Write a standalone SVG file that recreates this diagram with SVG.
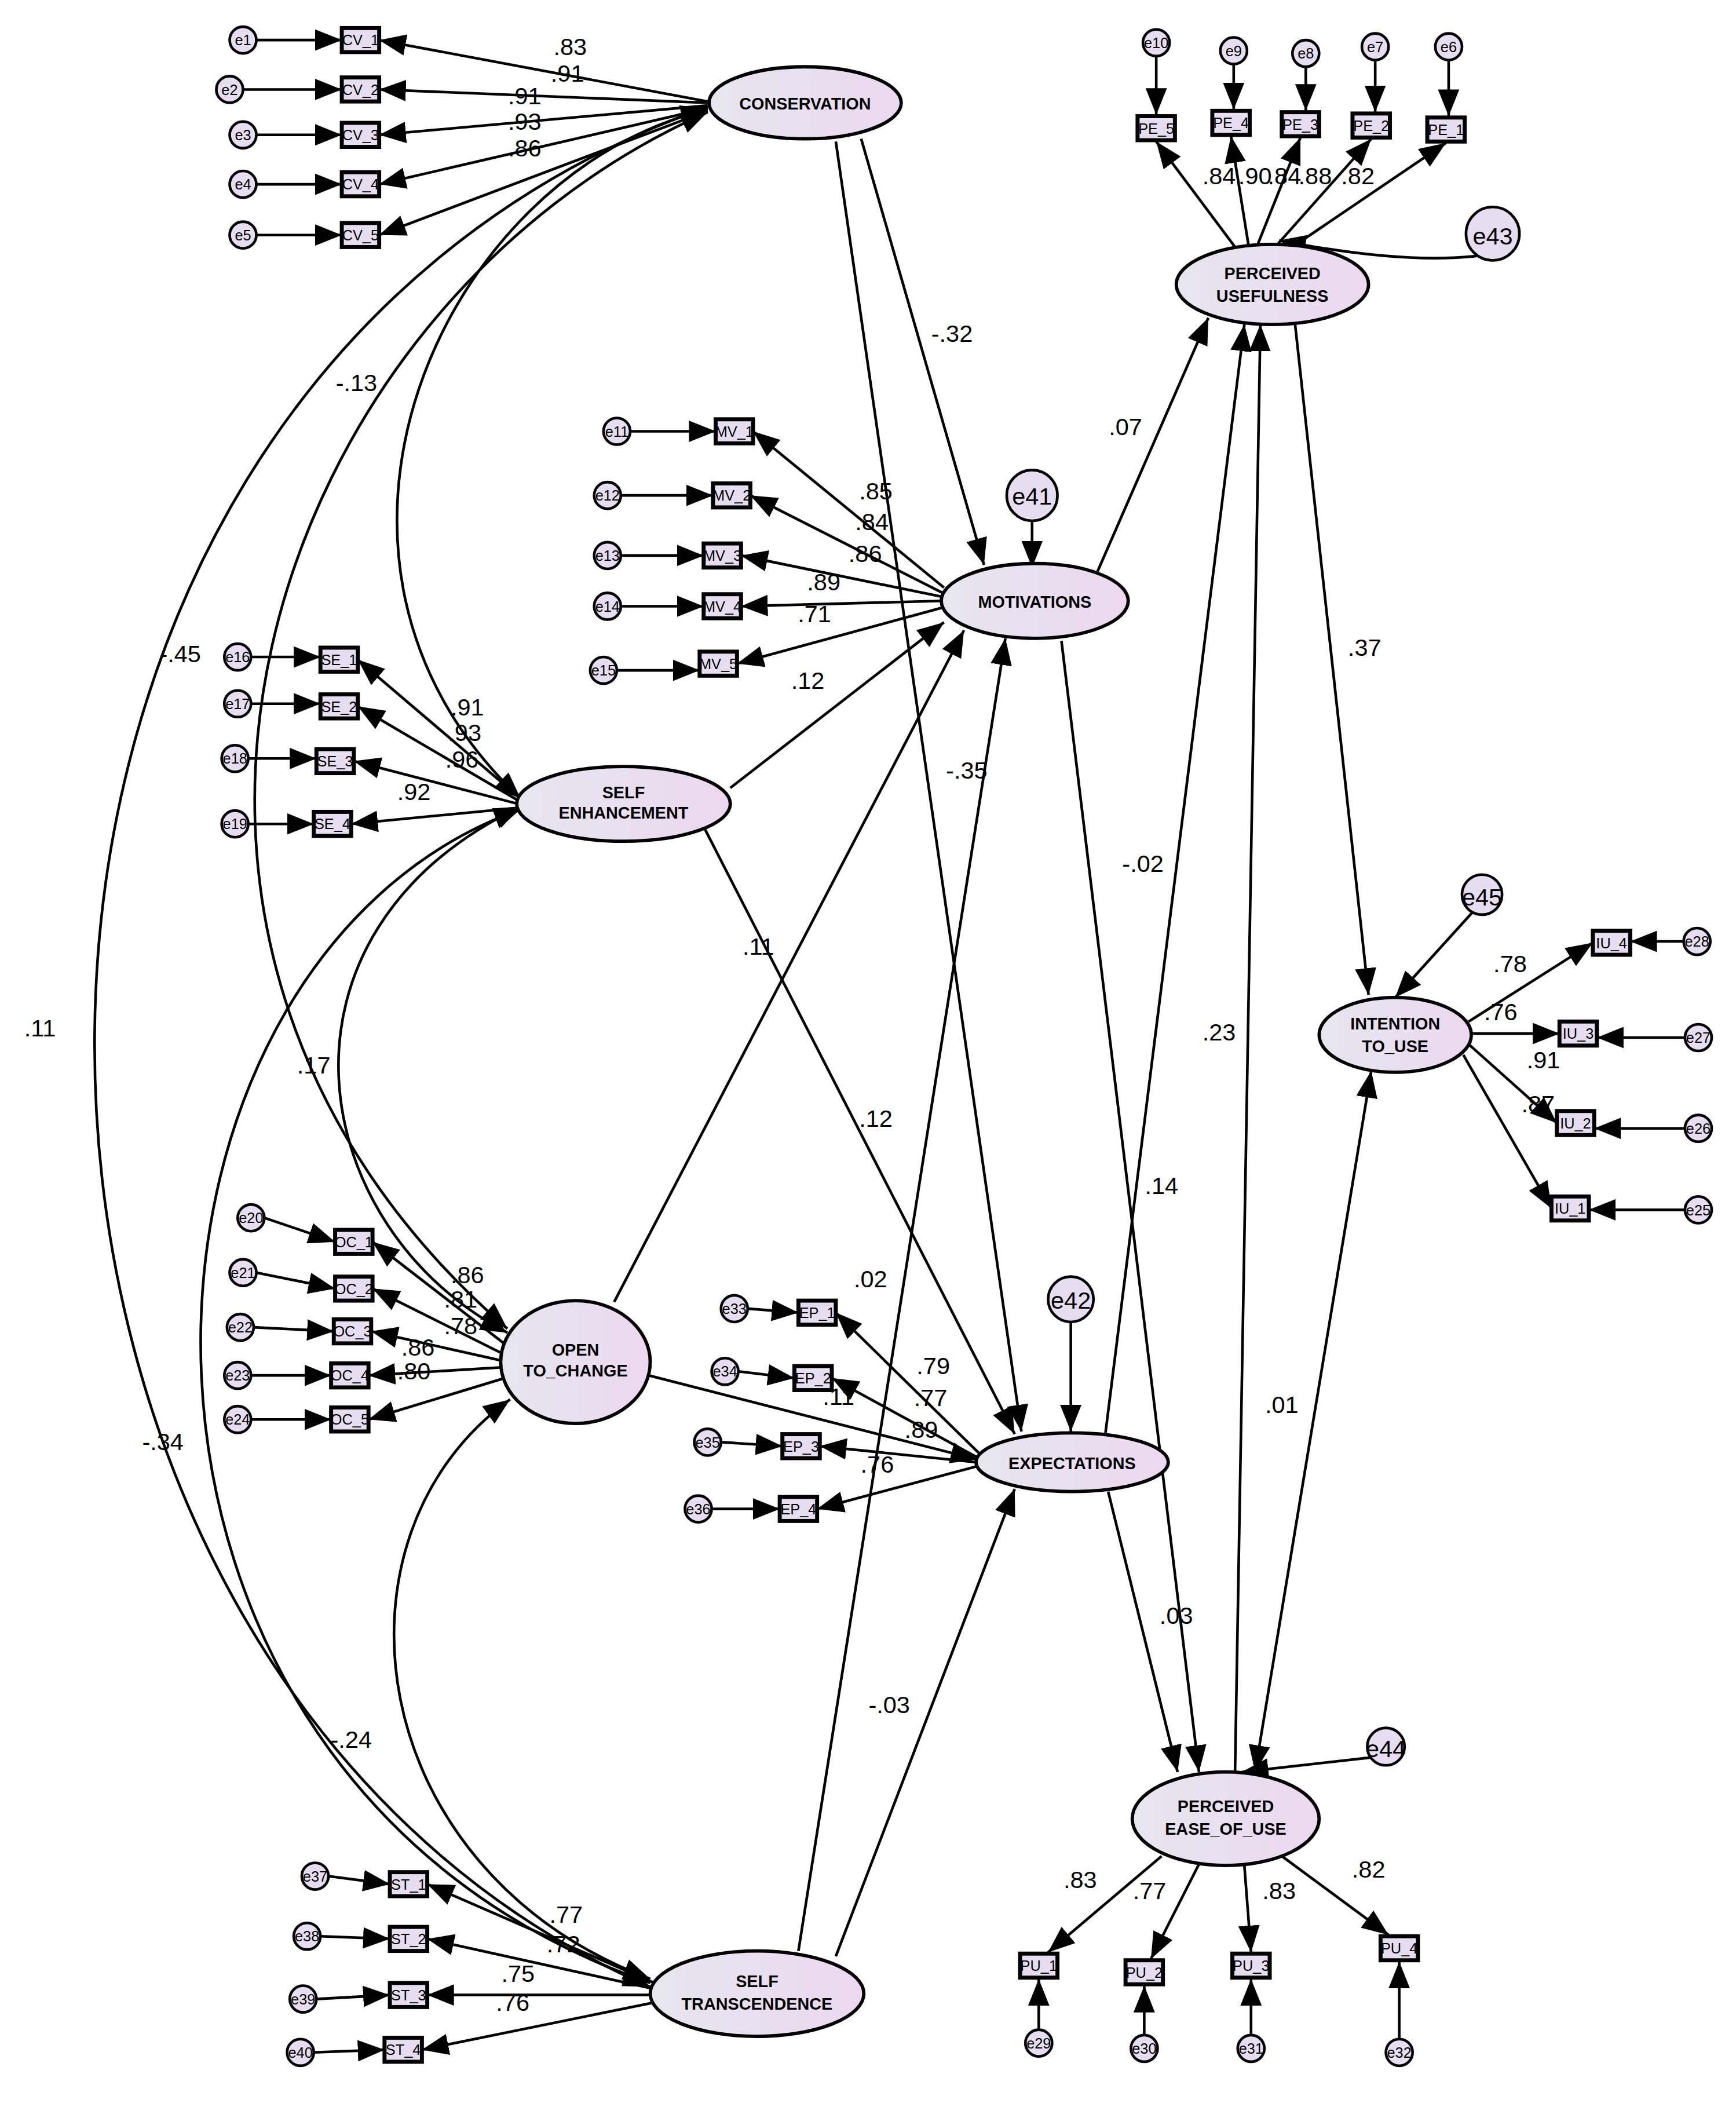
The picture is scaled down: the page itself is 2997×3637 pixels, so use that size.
<svg xmlns="http://www.w3.org/2000/svg" width="2997" height="3637" viewBox="0 0 2997 3637">
<style>
.l{fill:url(#g);stroke:#000;stroke-width:2.5}
.b{fill:#e6def0;stroke:#000;stroke-width:3}
.e{fill:#e6def0;stroke:#000;stroke-width:2}
.n{font-family:"Liberation Sans",Arial,sans-serif;font-weight:bold;font-size:12.5px;text-anchor:middle}
.s{font-family:"Liberation Sans",Arial,sans-serif;font-size:11px;text-anchor:middle}
.t{font-family:"Liberation Sans",Arial,sans-serif;font-size:18px;text-anchor:middle}
.a{fill:none;stroke:#000;stroke-width:2;marker-end:url(#m)}
.d{fill:none;stroke:#000;stroke-width:2;marker-end:url(#m);marker-start:url(#m)}
</style>
<defs>
<linearGradient id="g" x1="0" x2="1"><stop offset="0" stop-color="#e6e6ee"/><stop offset="1" stop-color="#ecd8f0"/></linearGradient>
<marker id="m" viewBox="0 0 10 8" refX="10" refY="4" markerWidth="10" markerHeight="8" orient="auto-start-reverse"><path d="M0,0L10,4L0,8z"/></marker>
</defs>
<rect width="2997" height="3637" fill="#fff"/>
<g transform="scale(2.305)">
<g id="connectors">
<!-- CV -->
<path class="a" d="M192,30H256"/><path class="a" d="M182,67H256"/><path class="a" d="M192,101H256"/><path class="a" d="M192,138H256"/><path class="a" d="M192,176H256"/>
<path class="a" d="M530,76L284,30"/><path class="a" d="M530,77L284,67"/><path class="a" d="M530,79L284,101"/><path class="a" d="M530,81L284,138"/><path class="a" d="M530,83L284,176"/>
<!-- MV -->
<path class="a" d="M472,323H536"/><path class="a" d="M465,371H534"/><path class="a" d="M465,416H527"/><path class="a" d="M465,454H527"/><path class="a" d="M462,502H524"/>
<path class="a" d="M707,440L564,323"/><path class="a" d="M706,444L562,371"/><path class="a" d="M706,447L555,416"/><path class="a" d="M705,450L555,454"/><path class="a" d="M706,455L552,497"/>
<!-- SE -->
<path class="a" d="M188,492H240"/><path class="a" d="M188,527H240"/><path class="a" d="M186,568H237"/><path class="a" d="M186,617H235"/>
<path class="a" d="M390,598L268,494"/><path class="a" d="M389,600L268,529"/><path class="a" d="M388,602L265,570"/><path class="a" d="M388,605L263,617"/>
<!-- OC -->
<path class="a" d="M198,912L251,930"/><path class="a" d="M192,953L251,965"/><path class="a" d="M190,994L250,997"/><path class="a" d="M188,1030H248"/><path class="a" d="M188,1063H248"/>
<path class="a" d="M380,1008L279,930"/><path class="a" d="M377,1014L279,965"/><path class="a" d="M376,1019L278,997"/><path class="a" d="M376,1024L276,1030"/><path class="a" d="M378,1032L276,1063"/>
<!-- EP -->
<path class="a" d="M560,980L598,983"/><path class="a" d="M553,1027L595,1032"/><path class="a" d="M540,1080L586,1083"/><path class="a" d="M533,1130H584"/>
<path class="a" d="M735,1090L626,983"/><path class="a" d="M733,1092L623,1032"/><path class="a" d="M731,1095L614,1083"/><path class="a" d="M732,1098L612,1130"/>
<!-- ST -->
<path class="a" d="M246,1405L292,1411"/><path class="a" d="M240,1450L292,1452"/><path class="a" d="M237,1497L292,1494"/><path class="a" d="M235,1537L288,1535"/>
<path class="a" d="M490,1485L320,1411"/><path class="a" d="M488,1489L320,1452"/><path class="a" d="M487,1494L320,1494"/><path class="a" d="M488,1500L316,1535"/>
<!-- PE -->
<path class="a" d="M866,42V86"/><path class="a" d="M924,48V82"/><path class="a" d="M978,50V83"/><path class="a" d="M1030,45V84"/><path class="a" d="M1085,45V87"/>
<path class="a" d="M925,185L866,106"/><path class="a" d="M935,183L922,102"/><path class="a" d="M942,183L974,103"/><path class="a" d="M955,185L1027,104"/><path class="a" d="M965,187L1083,107"/>
<!-- IU -->
<path class="a" d="M1261,705H1221"/><path class="a" d="M1262,777H1196"/><path class="a" d="M1262,845H1194"/><path class="a" d="M1262,906H1190"/>
<path class="a" d="M1100,765L1193,706"/><path class="a" d="M1102,774H1168"/><path class="a" d="M1100,782L1166,841"/><path class="a" d="M1096,790L1162,905"/>
<!-- PU (PEOU indicators) -->
<path class="a" d="M778,1520V1482"/><path class="a" d="M857,1524V1487"/><path class="a" d="M937,1524V1482"/><path class="a" d="M1048,1527V1469"/>
<path class="a" d="M870,1390L785,1462"/><path class="a" d="M898,1396L862,1467"/><path class="a" d="M932,1397L937,1462"/><path class="a" d="M960,1390L1040,1449"/>
<!-- structural -->
<path class="a" d="M645,104L737,423"/>
<path class="a" d="M626,106L765,1072"/>
<path class="a" d="M547,590L707,466"/>
<path class="a" d="M528,621L760,1074"/>
<path class="a" d="M460,975L722,472"/>
<path class="a" d="M486,1030L732,1093"/>
<path class="a" d="M598,1461L753,478"/>
<path class="a" d="M626,1465L760,1115"/>
<path class="a" d="M822,428L905,238"/>
<path class="a" d="M795,480L898,1327"/>
<path class="a" d="M828,1073L932,243"/>
<path class="a" d="M830,1117L882,1327"/>
<path class="a" d="M925,1327L944,243"/>
<path class="d" d="M940,1327L1027,802"/>
<path class="a" d="M970,243L1025,745"/>
<path class="a" d="M773,390V425"/>
<path class="a" d="M802,990V1072"/>
<path class="a" d="M1118,190Q1060,200 958,180"/>
<path class="a" d="M1028,1316L930,1327"/>
<path class="a" d="M1103,683L1045,747"/>
<!-- covariances -->
<path class="d" d="M530,82C330,130 200,420 390,598"/>
<path class="d" d="M530,84C200,230 40,700 380,995"/>
<path class="d" d="M530,80C-90,300 -60,1250 487,1488"/>
<path class="d" d="M390,604C190,700 230,920 380,998"/>
<path class="d" d="M390,606C70,720 40,1330 487,1485"/>
<path class="d" d="M382,1048C240,1150 270,1400 487,1482"/>
</g>
<g id="labels" class="t">
<text x="427" y="41">.83</text><text x="425" y="61">.91</text><text x="393" y="78">.91</text><text x="393" y="97">.93</text><text x="393" y="117">.86</text>
<text x="656" y="374">.85</text><text x="653" y="397">.84</text><text x="648" y="421">.86</text><text x="617" y="442">.89</text><text x="610" y="466">.71</text>
<text x="350" y="536">.91</text><text x="348" y="555">.93</text><text x="346" y="575">.96</text><text x="310" y="599">.92</text>
<text x="350" y="961">.86</text><text x="345" y="979">.81</text><text x="345" y="999">.78</text><text x="313" y="1015">.86</text><text x="310" y="1033">.80</text>
<text x="699" y="1029">.79</text><text x="697" y="1053">.77</text><text x="690" y="1077">.89</text><text x="657" y="1103">.76</text><text x="628" y="1052">.11</text>
<text x="424" y="1440">.77</text><text x="422" y="1462">.72</text><text x="388" y="1484">.75</text><text x="384" y="1506">.76</text>
<text x="913" y="138">.84</text><text x="940" y="138">.90</text><text x="962" y="138">.84</text><text x="985" y="138">.88</text><text x="1017" y="138">.82</text>
<text x="1131" y="728">.78</text><text x="1124" y="764">.76</text><text x="1156" y="800">.91</text><text x="1152" y="833">.87</text>
<text x="809" y="1414">.83</text><text x="861" y="1422">.77</text><text x="958" y="1422">.83</text><text x="1025" y="1406">.82</text>
<text x="713" y="256">-.32</text><text x="724" y="583">-.35</text><text x="605" y="516">.12</text><text x="656" y="844">.12</text>
<text x="568" y="715">.11</text><text x="652" y="964">.02</text><text x="666" y="1283">-.03</text><text x="843" y="326">.07</text>
<text x="870" y="894">.14</text><text x="856" y="653">-.02</text><text x="881" y="1216">.03</text><text x="913" y="779">.23</text>
<text x="960" y="1058">.01</text><text x="1022" y="491">.37</text>
<text x="267" y="293">-.13</text><text x="135" y="496">-.45</text><text x="30" y="776">.11</text><text x="235" y="804">.17</text>
<text x="122" y="1086">-.34</text><text x="263" y="1309">-.24</text>
</g>
<g id="CONSERVATION"><ellipse class="l" cx="603" cy="77" rx="72" ry="27"/><text class="n" x="603" y="82">CONSERVATION</text></g>
<g id="MOTIVATIONS"><ellipse class="l" cx="775" cy="450" rx="70" ry="28"/><text class="n" x="775" y="455">MOTIVATIONS</text></g>
<g id="SELF_ENHANCEMENT"><ellipse class="l" cx="467" cy="602" rx="80" ry="28"/><text class="n" x="467" y="598">SELF</text><text class="n" x="467" y="613">ENHANCEMENT</text></g>
<g id="OPEN_TO_CHANGE"><ellipse class="l" cx="431" cy="1020" rx="56" ry="46"/><text class="n" x="431" y="1015">OPEN</text><text class="n" x="431" y="1031">TO_CHANGE</text></g>
<g id="EXPECTATIONS"><ellipse class="l" cx="803" cy="1095" rx="72" ry="22"/><text class="n" x="803" y="1100">EXPECTATIONS</text></g>
<g id="SELF_TRANSCENDENCE"><ellipse class="l" cx="567" cy="1493" rx="80" ry="32"/><text class="n" x="567" y="1488">SELF</text><text class="n" x="567" y="1505">TRANSCENDENCE</text></g>
<g id="PERCEIVED_USEFULNESS"><ellipse class="l" cx="953" cy="213" rx="72" ry="30"/><text class="n" x="953" y="209">PERCEIVED</text><text class="n" x="953" y="226">USEFULNESS</text></g>
<g id="INTENTION_TO_USE"><ellipse class="l" cx="1045" cy="775" rx="57" ry="28"/><text class="n" x="1045" y="771">INTENTION</text><text class="n" x="1045" y="788">TO_USE</text></g>
<g id="PERCEIVED_EASE_OF_USE"><ellipse class="l" cx="918" cy="1362" rx="70" ry="35"/><text class="n" x="918" y="1357">PERCEIVED</text><text class="n" x="918" y="1374">EASE_OF_USE</text></g>
<g id="e41"><circle class="e" cx="773" cy="371" r="19"/><text class="t" x="773" y="378" font-size="22">e41</text></g>
<g id="e42"><circle class="e" cx="802" cy="973" r="17"/><text class="t" x="802" y="980" font-size="22">e42</text></g>
<g id="e43"><circle class="e" cx="1118" cy="175" r="20"/><text class="t" x="1118" y="183" font-size="24">e43</text></g>
<g id="e44"><circle class="e" cx="1038" cy="1308" r="14"/><text class="t" x="1038" y="1316" font-size="22">e44</text></g>
<g id="e45"><circle class="e" cx="1110" cy="670" r="15"/><text class="t" x="1110" y="678" font-size="22">e45</text></g>
<g id="CV_1"><rect class="b" x="256" y="21" width="28" height="18"/><text class="s" x="270" y="34">CV_1</text></g>
<g id="CV_2"><rect class="b" x="256" y="58" width="28" height="18"/><text class="s" x="270" y="71">CV_2</text></g>
<g id="CV_3"><rect class="b" x="256" y="92" width="28" height="18"/><text class="s" x="270" y="105">CV_3</text></g>
<g id="CV_4"><rect class="b" x="256" y="129" width="28" height="18"/><text class="s" x="270" y="142">CV_4</text></g>
<g id="CV_5"><rect class="b" x="256" y="167" width="28" height="18"/><text class="s" x="270" y="180">CV_5</text></g>
<g id="e1"><circle class="e" cx="182" cy="30" r="10"/><text class="s" x="182" y="34">e1</text></g>
<g id="e2"><circle class="e" cx="172" cy="67" r="10"/><text class="s" x="172" y="71">e2</text></g>
<g id="e3"><circle class="e" cx="182" cy="101" r="10"/><text class="s" x="182" y="105">e3</text></g>
<g id="e4"><circle class="e" cx="182" cy="138" r="10"/><text class="s" x="182" y="142">e4</text></g>
<g id="e5"><circle class="e" cx="182" cy="176" r="10"/><text class="s" x="182" y="180">e5</text></g>
<g id="MV_1"><rect class="b" x="536" y="314" width="28" height="18"/><text class="s" x="550" y="327">MV_1</text></g>
<g id="MV_2"><rect class="b" x="534" y="362" width="28" height="18"/><text class="s" x="548" y="375">MV_2</text></g>
<g id="MV_3"><rect class="b" x="527" y="407" width="28" height="18"/><text class="s" x="541" y="420">MV_3</text></g>
<g id="MV_4"><rect class="b" x="527" y="445" width="28" height="18"/><text class="s" x="541" y="458">MV_4</text></g>
<g id="MV_5"><rect class="b" x="524" y="488" width="28" height="18"/><text class="s" x="538" y="501">MV_5</text></g>
<g id="e11"><circle class="e" cx="462" cy="323" r="10"/><text class="s" x="462" y="327">e11</text></g>
<g id="e12"><circle class="e" cx="455" cy="371" r="10"/><text class="s" x="455" y="375">e12</text></g>
<g id="e13"><circle class="e" cx="455" cy="416" r="10"/><text class="s" x="455" y="420">e13</text></g>
<g id="e14"><circle class="e" cx="455" cy="454" r="10"/><text class="s" x="455" y="458">e14</text></g>
<g id="e15"><circle class="e" cx="452" cy="502" r="10"/><text class="s" x="452" y="506">e15</text></g>
<g id="SE_1"><rect class="b" x="240" y="485" width="28" height="18"/><text class="s" x="254" y="498">SE_1</text></g>
<g id="SE_2"><rect class="b" x="240" y="520" width="28" height="18"/><text class="s" x="254" y="533">SE_2</text></g>
<g id="SE_3"><rect class="b" x="237" y="561" width="28" height="18"/><text class="s" x="251" y="574">SE_3</text></g>
<g id="SE_4"><rect class="b" x="235" y="608" width="28" height="18"/><text class="s" x="249" y="621">SE_4</text></g>
<g id="e16"><circle class="e" cx="178" cy="492" r="10"/><text class="s" x="178" y="496">e16</text></g>
<g id="e17"><circle class="e" cx="178" cy="527" r="10"/><text class="s" x="178" y="531">e17</text></g>
<g id="e18"><circle class="e" cx="176" cy="568" r="10"/><text class="s" x="176" y="572">e18</text></g>
<g id="e19"><circle class="e" cx="176" cy="617" r="10"/><text class="s" x="176" y="621">e19</text></g>
<g id="OC_1"><rect class="b" x="251" y="921" width="28" height="18"/><text class="s" x="265" y="934">OC_1</text></g>
<g id="OC_2"><rect class="b" x="251" y="956" width="28" height="18"/><text class="s" x="265" y="969">OC_2</text></g>
<g id="OC_3"><rect class="b" x="250" y="988" width="28" height="18"/><text class="s" x="264" y="1001">OC_3</text></g>
<g id="OC_4"><rect class="b" x="248" y="1021" width="28" height="18"/><text class="s" x="262" y="1034">OC_4</text></g>
<g id="OC_5"><rect class="b" x="248" y="1054" width="28" height="18"/><text class="s" x="262" y="1067">OC_5</text></g>
<g id="e20"><circle class="e" cx="188" cy="912" r="10"/><text class="s" x="188" y="916">e20</text></g>
<g id="e21"><circle class="e" cx="182" cy="953" r="10"/><text class="s" x="182" y="957">e21</text></g>
<g id="e22"><circle class="e" cx="180" cy="994" r="10"/><text class="s" x="180" y="998">e22</text></g>
<g id="e23"><circle class="e" cx="178" cy="1030" r="10"/><text class="s" x="178" y="1034">e23</text></g>
<g id="e24"><circle class="e" cx="178" cy="1063" r="10"/><text class="s" x="178" y="1067">e24</text></g>
<g id="EP_1"><rect class="b" x="598" y="974" width="28" height="18"/><text class="s" x="612" y="987">EP_1</text></g>
<g id="EP_2"><rect class="b" x="595" y="1023" width="28" height="18"/><text class="s" x="609" y="1036">EP_2</text></g>
<g id="EP_3"><rect class="b" x="586" y="1074" width="28" height="18"/><text class="s" x="600" y="1087">EP_3</text></g>
<g id="EP_4"><rect class="b" x="584" y="1121" width="28" height="18"/><text class="s" x="598" y="1134">EP_4</text></g>
<g id="e33"><circle class="e" cx="550" cy="980" r="10"/><text class="s" x="550" y="984">e33</text></g>
<g id="e34"><circle class="e" cx="543" cy="1027" r="10"/><text class="s" x="543" y="1031">e34</text></g>
<g id="e35"><circle class="e" cx="530" cy="1080" r="10"/><text class="s" x="530" y="1084">e35</text></g>
<g id="e36"><circle class="e" cx="523" cy="1130" r="10"/><text class="s" x="523" y="1134">e36</text></g>
<g id="ST_1"><rect class="b" x="292" y="1402" width="28" height="18"/><text class="s" x="306" y="1415">ST_1</text></g>
<g id="ST_2"><rect class="b" x="292" y="1443" width="28" height="18"/><text class="s" x="306" y="1456">ST_2</text></g>
<g id="ST_3"><rect class="b" x="292" y="1485" width="28" height="18"/><text class="s" x="306" y="1498">ST_3</text></g>
<g id="ST_4"><rect class="b" x="288" y="1526" width="28" height="18"/><text class="s" x="302" y="1539">ST_4</text></g>
<g id="e37"><circle class="e" cx="236" cy="1405" r="10"/><text class="s" x="236" y="1409">e37</text></g>
<g id="e38"><circle class="e" cx="230" cy="1450" r="10"/><text class="s" x="230" y="1454">e38</text></g>
<g id="e39"><circle class="e" cx="227" cy="1497" r="10"/><text class="s" x="227" y="1501">e39</text></g>
<g id="e40"><circle class="e" cx="225" cy="1537" r="10"/><text class="s" x="225" y="1541">e40</text></g>
<g id="PE_5"><rect class="b" x="852" y="87" width="28" height="18"/><text class="s" x="866" y="100">PE_5</text></g>
<g id="PE_4"><rect class="b" x="908" y="83" width="28" height="18"/><text class="s" x="922" y="96">PE_4</text></g>
<g id="PE_3"><rect class="b" x="960" y="84" width="28" height="18"/><text class="s" x="974" y="97">PE_3</text></g>
<g id="PE_2"><rect class="b" x="1013" y="85" width="28" height="18"/><text class="s" x="1027" y="98">PE_2</text></g>
<g id="PE_1"><rect class="b" x="1069" y="88" width="28" height="18"/><text class="s" x="1083" y="101">PE_1</text></g>
<g id="e10"><circle class="e" cx="866" cy="32" r="10"/><text class="s" x="866" y="36">e10</text></g>
<g id="e9"><circle class="e" cx="924" cy="38" r="10"/><text class="s" x="924" y="42">e9</text></g>
<g id="e8"><circle class="e" cx="978" cy="40" r="10"/><text class="s" x="978" y="44">e8</text></g>
<g id="e7"><circle class="e" cx="1030" cy="35" r="10"/><text class="s" x="1030" y="39">e7</text></g>
<g id="e6"><circle class="e" cx="1085" cy="35" r="10"/><text class="s" x="1085" y="39">e6</text></g>
<g id="IU_4"><rect class="b" x="1193" y="697" width="28" height="18"/><text class="s" x="1207" y="710">IU_4</text></g>
<g id="IU_3"><rect class="b" x="1168" y="765" width="28" height="18"/><text class="s" x="1182" y="778">IU_3</text></g>
<g id="IU_2"><rect class="b" x="1166" y="832" width="28" height="18"/><text class="s" x="1180" y="845">IU_2</text></g>
<g id="IU_1"><rect class="b" x="1162" y="896" width="28" height="18"/><text class="s" x="1176" y="909">IU_1</text></g>
<g id="e28"><circle class="e" cx="1271" cy="705" r="10"/><text class="s" x="1271" y="709">e28</text></g>
<g id="e27"><circle class="e" cx="1272" cy="777" r="10"/><text class="s" x="1272" y="781">e27</text></g>
<g id="e26"><circle class="e" cx="1272" cy="845" r="10"/><text class="s" x="1272" y="849">e26</text></g>
<g id="e25"><circle class="e" cx="1272" cy="906" r="10"/><text class="s" x="1272" y="910">e25</text></g>
<g id="PU_1"><rect class="b" x="764" y="1463" width="28" height="18"/><text class="s" x="778" y="1476">PU_1</text></g>
<g id="PU_2"><rect class="b" x="843" y="1468" width="28" height="18"/><text class="s" x="857" y="1481">PU_2</text></g>
<g id="PU_3"><rect class="b" x="923" y="1463" width="28" height="18"/><text class="s" x="937" y="1476">PU_3</text></g>
<g id="PU_4"><rect class="b" x="1034" y="1450" width="28" height="18"/><text class="s" x="1048" y="1463">PU_4</text></g>
<g id="e29"><circle class="e" cx="778" cy="1530" r="10"/><text class="s" x="778" y="1534">e29</text></g>
<g id="e30"><circle class="e" cx="857" cy="1534" r="10"/><text class="s" x="857" y="1538">e30</text></g>
<g id="e31"><circle class="e" cx="937" cy="1534" r="10"/><text class="s" x="937" y="1538">e31</text></g>
<g id="e32"><circle class="e" cx="1048" cy="1537" r="10"/><text class="s" x="1048" y="1541">e32</text></g>
</g>
</svg>
